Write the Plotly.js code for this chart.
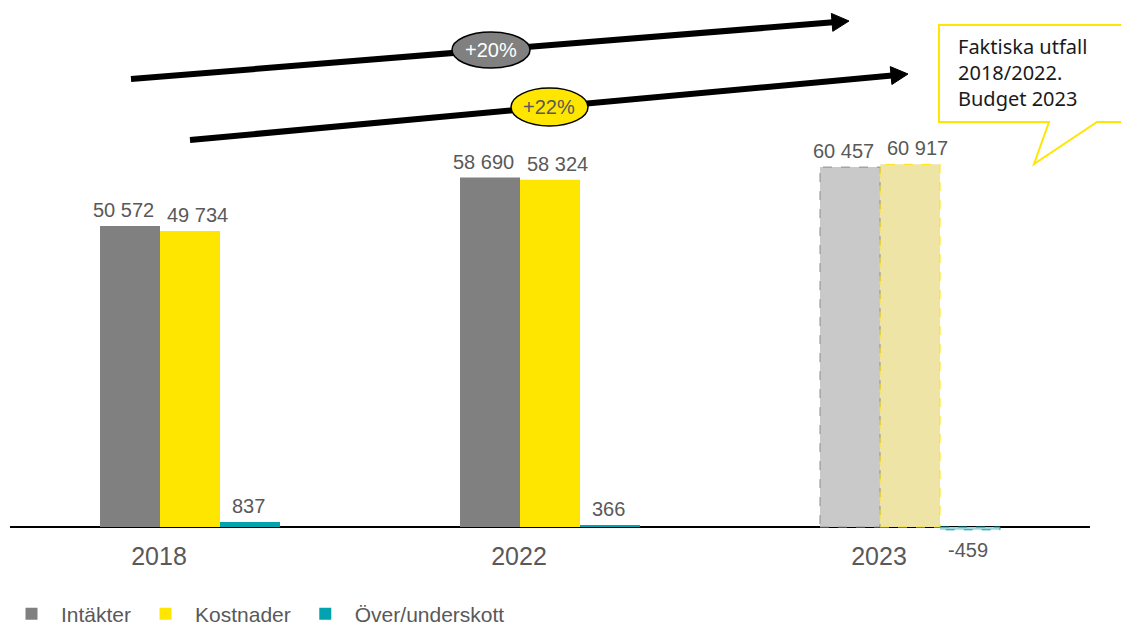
<!DOCTYPE html>
<html><head><meta charset="utf-8">
<script src="https://cdn.plot.ly/plotly-3.0.1.min.js"></script>
<style>html,body{margin:0;padding:0;background:#fff}</style>
</head><body>
<div id="chart" style="width:1121px;height:626px"></div>
<script>
// ---- data ----
const years = ['2018', '2022', '2023'];
const intakter = [50572, 58690, 60457];
const kostnader = [49734, 58324, 60917];
const overunderskott = [837, 366, -459];
const seriesNames = ['Intäkter', 'Kostnader', 'Över/underskott'];
const budgetYear = '2023';
const growthLabels = ['+20%', '+22%'];
const calloutLines = ['Faktiska utfall', '2018/2022.', 'Budget 2023'];

// ---- styles ----
const colSolid = ['#808080', '#FFE600', '#00A3AE'];
const colBudget = ['#C9C9C9', '#EEE4A6', '#9FD8DB'];
const colBudgetLine = ['#8C8C8C', '#FFE600', '#00A3AE'];
const labelFont = {family: 'Liberation Sans, Arial, sans-serif', size: 20, color: '#595959'};
const labelShift = [-7, 7, -2];

const L = 10, W = 1080, T = 15, H = 524;
const BARGAP = 0.5;
function P(px, py) { return {x: (px - L) / W, y: (T + H - py) / H}; }
function fmt(v) {
  const s = String(Math.abs(v)).replace(/\B(?=(\d{3})+(?!\d))/g, '\u00a0');
  return (v < 0 ? '-' : '') + s;
}

const series = [intakter, kostnader, overunderskott];
const traces = series.map((vals, j) => ({
  type: 'bar',
  name: seriesNames[j],
  x: years,
  y: vals,
  marker: {color: years.map(yr => yr === budgetYear ? colBudget[j] : colSolid[j]), line: {width: 0}},
  textposition: 'none',
  hoverinfo: 'x+y+name'
}));

const shapes = [];
const annotations = [];
const nS = series.length, bw = (1 - BARGAP) / nS;
const bi = years.indexOf(budgetYear);
series.forEach((vals, j) => {
  // value labels, placed on the data scale
  vals.forEach((v, i) => {
    const c = i + (j - (nS - 1) / 2) * bw;
    annotations.push({xref: 'x', yref: 'y', x: c, y: v, text: fmt(v), showarrow: false,
      xanchor: 'center', yanchor: v >= 0 ? 'bottom' : 'top', xshift: labelShift[j], yshift: v >= 0 ? 3 : -7,
      font: labelFont});
  });
  // dashed outlines for budget-year bars
  const c = bi + (j - (nS - 1) / 2) * bw;
  shapes.push({type: 'rect', xref: 'x', yref: 'y', x0: c - bw / 2, x1: c + bw / 2, y0: 0, y1: vals[bi],
    line: {color: colBudgetLine[j], width: 1, dash: 'dash'}, fillcolor: 'rgba(0,0,0,0)', layer: 'above'});
});

// growth arrows
function arrow(tail, tip, len, half, w) {
  const dx = tip[0] - tail[0], dy = tip[1] - tail[1], d = Math.hypot(dx, dy);
  const ux = dx / d, uy = dy / d, nx = -uy, ny = ux;
  const bx = tip[0] - len * ux, by = tip[1] - len * uy;
  const a = P(tail[0], tail[1]), b = P(bx + ux, by + uy);
  shapes.push({type: 'line', xref: 'paper', yref: 'paper', x0: a.x, y0: a.y, x1: b.x, y1: b.y, line: {color: '#000', width: w}});
  const p1 = P(bx + half * nx, by + half * ny), p2 = P(bx - half * nx, by - half * ny), pt = P(tip[0], tip[1]);
  shapes.push({type: 'path', xref: 'paper', yref: 'paper',
    path: `M${p1.x},${p1.y} L${pt.x},${pt.y} L${p2.x},${p2.y} Z`, fillcolor: '#000', line: {color: '#000', width: 1}});
}
arrow([131, 79], [849, 21], 17, 9, 6);
arrow([190, 140], [908, 74], 17, 9, 6);

// ellipses
function ellipse(x0, y0, x1, y1, fill) {
  const a = P(x0, y0), b = P(x1, y1);
  shapes.push({type: 'circle', xref: 'paper', yref: 'paper', x0: a.x, x1: b.x, y0: b.y, y1: a.y,
    fillcolor: fill, line: {color: '#000', width: 1.5}});
}
ellipse(452, 32, 530, 68, '#808080');
ellipse(511, 88, 588, 126, '#FFE600');

// callout
const cpts = [[939, 25], [1130, 25], [1130, 122], [1097, 122], [1034, 164], [1049, 122], [939, 122]].map(p => P(p[0], p[1]));
shapes.push({type: 'path', xref: 'paper', yref: 'paper',
  path: 'M' + cpts.map(p => p.x + ',' + p.y).join(' L') + ' Z',
  fillcolor: '#FFFFFF', line: {color: '#FFE600', width: 2}});

[
  {text: growthLabels[0], x: P(491, 50).x, y: P(491, 50).y, font: {family: 'Liberation Sans, Arial, sans-serif', size: 20, color: '#FFFFFF'}},
  {text: growthLabels[1], x: P(549, 107).x, y: P(549, 107).y, font: {family: 'Liberation Sans, Arial, sans-serif', size: 20, color: '#595959'}},
  {text: calloutLines.join('<br>'), x: P(956, 72).x, y: P(956, 72).y, xanchor: 'left', align: 'left',
   font: {family: 'Noto Sans, sans-serif', size: 20, color: '#1A1A1A'}}
].forEach(a => annotations.push(Object.assign({xref: 'paper', yref: 'paper', showarrow: false, yanchor: 'middle'}, a)));

const layout = {
  width: 1121, height: 626,
  margin: {l: L, r: 1121 - L - W, t: T, b: 626 - T - H, pad: 0, autoexpand: false},
  paper_bgcolor: '#FFFFFF', plot_bgcolor: '#FFFFFF',
  barmode: 'group', bargap: BARGAP, bargroupgap: 0,
  showlegend: true,
  legend: {orientation: 'h', x: P(2, 0).x, xanchor: 'left', y: P(0, 614).y, yanchor: 'middle',
    itemwidth: 49, borderwidth: 0,
    font: {family: 'Liberation Sans, Arial, sans-serif', size: 21, color: '#595959'}, traceorder: 'normal'},
  xaxis: {type: 'category', showline: false, showgrid: false, zeroline: false, ticks: '',
    tickfont: {family: 'Liberation Sans, Arial, sans-serif', size: 25, color: '#595959'},
    ticklabelshift: -31, fixedrange: true},
  yaxis: {range: [-2000, 86000], showgrid: false, showticklabels: false, ticks: '', showline: false,
    zeroline: true, zerolinecolor: '#000000', zerolinewidth: 2, fixedrange: true},
  shapes: shapes,
  annotations: annotations,
  font: {family: 'Liberation Sans, Arial, sans-serif'}
};

Plotly.newPlot('chart', traces, layout, {displayModeBar: false, staticPlot: true});
</script>
</body></html>
